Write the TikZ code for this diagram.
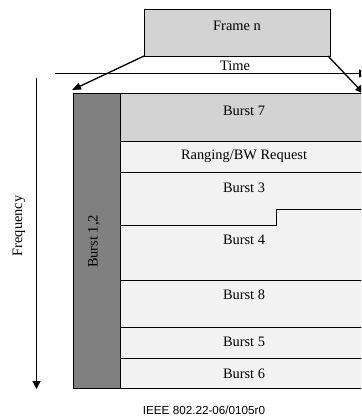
\documentclass[tikz,border=0pt]{standalone}
\usepackage{fontspec}
\setmainfont{Liberation Serif}
\newfontfamily\capfont{Liberation Sans}
\usetikzlibrary{arrows.meta}
\definecolor{boxgray}{HTML}{D3D3D3}
\definecolor{rowgray}{HTML}{F2F2F2}
\definecolor{colgray}{HTML}{808080}
\tikzset{
  region/.style={draw=black, line width=0.8pt, anchor=north west, inner sep=0pt, outer sep=0pt},
  lbl/.style={font=\fontsize{14.4}{16}\selectfont, inner sep=0pt, anchor=center},
  conn/.style={line width=1.3pt, -{Triangle[width=7pt,length=9pt]}},
}
\begin{document}
\begin{tikzpicture}[x=1pt,y=-1pt]
\useasboundingbox (0,0) rectangle (361,419);
\clip (0,0) rectangle (361,419);
% frame box
\node[region, fill=boxgray, minimum width=186pt, minimum height=47pt] (frame) at (144,9) {};
\node[lbl] (frametext) at (237,26) {Frame n};
% time axis
\coordinate (tstart) at (55,73.5);
\coordinate (tend) at (367,73.5);
\draw[line width=1.3pt, -{Triangle[width=8pt,length=8pt]}] (tstart) -- (tend);
\node[lbl] (time) at (235,66) {Time};
% frequency axis
\coordinate (ftop) at (36.5,78);
\coordinate (fbot) at (36.5,389);
\draw[line width=1.3pt, -{Triangle[width=8pt,length=8pt]}] (ftop) -- (fbot);
\node[lbl, rotate=90] (freq) at (19,226) {Frequency};
% bursts
\node[region, fill=colgray, minimum width=47pt, minimum height=295pt] (b12) at (73,93.5) {};
\node[lbl, rotate=90] (b12text) at (94,241.5) {Burst 1,2};
\node[region, fill=boxgray, minimum width=250pt, minimum height=47.5pt] (b7) at (120,93.5) {};
\node[lbl] (b7text) at (244,111) {Burst 7};
\node[region, fill=rowgray, minimum width=250pt, minimum height=31pt] (rng) at (120,141) {};
\node[lbl] (rngtext) at (244,156.5) {Ranging/BW Request};
\node[region, fill=rowgray, minimum width=250pt, minimum height=108pt] (b34) at (120,172) {};
\node[lbl] (b3text) at (244,187.5) {Burst 3};
\node[lbl] (b4text) at (244,239.5) {Burst 4};
\coordinate (stepA) at (120,225.5);
\coordinate (stepB) at (276,225.5);
\coordinate (stepC) at (276,209.5);
\coordinate (stepD) at (370,209.5);
\draw[line width=0.8pt] (stepA) -- (stepB) -- (stepC) -- (stepD);
\node[region, fill=rowgray, minimum width=250pt, minimum height=47pt] (b8) at (120,280) {};
\node[lbl] (b8text) at (244,295) {Burst 8};
\node[region, fill=rowgray, minimum width=250pt, minimum height=31pt] (b5) at (120,327) {};
\node[lbl] (b5text) at (244,341.5) {Burst 5};
\node[region, fill=rowgray, minimum width=250pt, minimum height=30.5pt] (b6) at (120,358) {};
\node[lbl] (b6text) at (244,373.5) {Burst 6};
% connectors from frame
\coordinate (ltip) at (72,90);
\coordinate (rtip) at (364,94);
\draw[conn] (frame.south west) -- (ltip);
\draw[conn] ([xshift=-2pt]frame.south east) -- (rtip);
% caption
\node[inner sep=0pt, font=\capfont\fontsize{11.7}{14}\selectfont] (cap) at (204,410) {IEEE 802.22-06/0105r0};
\end{tikzpicture}
\end{document}
